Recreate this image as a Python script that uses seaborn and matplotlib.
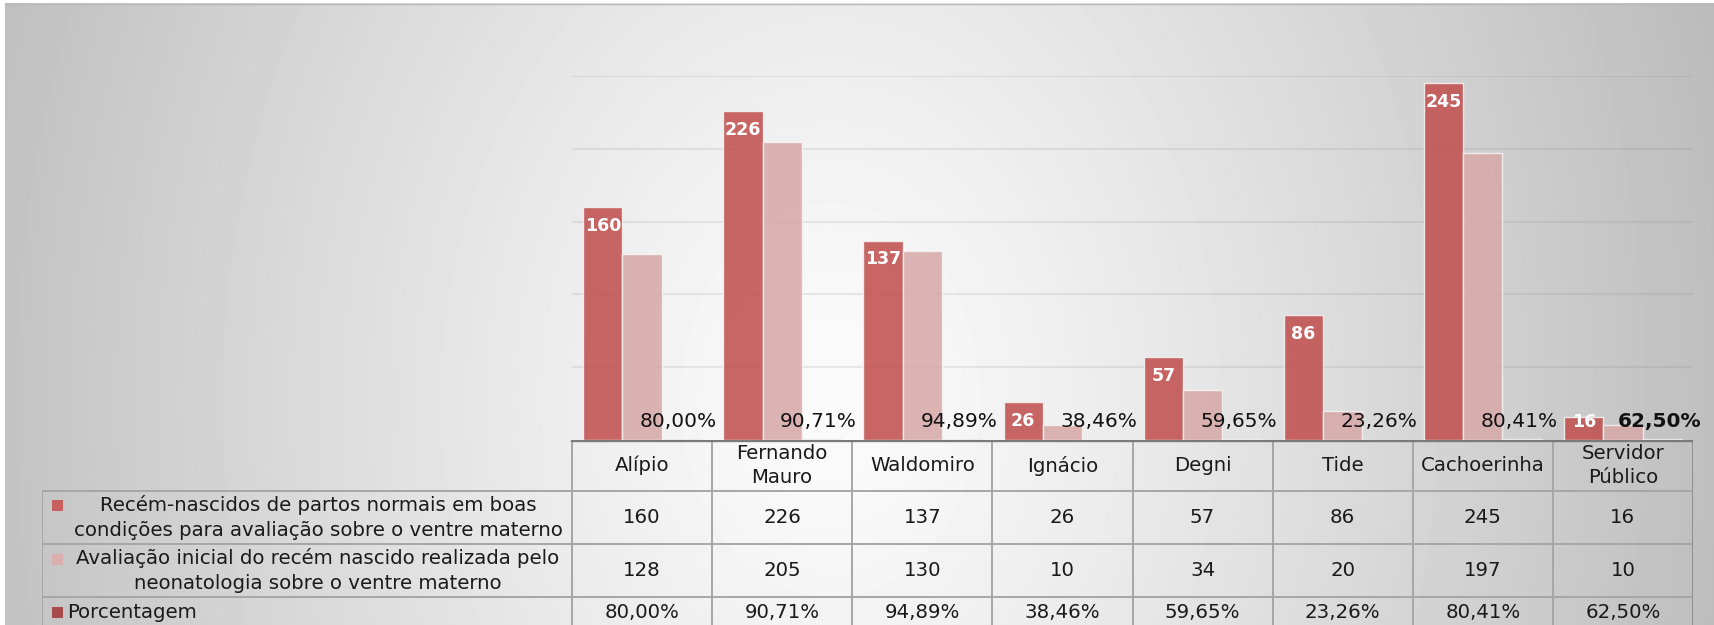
import matplotlib

matplotlib.use("Agg")
import matplotlib.pyplot as plt
import numpy as np
import pandas as pd
import seaborn as sns

# dados
unidades = ["Alípio", "Fernando\nMauro", "Waldomiro", "Ignácio", "Degni", "Tide", "Cachoerinha", "Servidor\nPúblico"]
partos_boas = [160, 226, 137, 26, 57, 86, 245, 16]
avaliacao_neo = [128, 205, 130, 10, 34, 20, 197, 10]
porcentagem = [80.00, 90.71, 94.89, 38.46, 59.65, 23.26, 80.41, 62.50]
series = [
    "Recém-nascidos de partos normais em boas\ncondições para avaliação sobre o ventre materno",
    "Avaliação inicial do recém nascido realizada pelo\nneonatologia sobre o ventre materno",
    "Porcentagem",
]
cores = ["#C0504E", "#D8A9A9", "#A84848"]
cores_chave = ["#C85F5F", "#DCAFAF", "#AA4B4B"]

W, H = 1715, 625
PLOT_L, PLOT_R, BASE, TOP250 = 572, 1693, 440, 76
TAB_L = 42


def fmt_pct(v):
    return f"{v:.2f}".replace(".", ",") + "%"


plt.rcParams["font.family"] = ["DejaVu Sans"]

fig = plt.figure(figsize=(W / 100, H / 100), dpi=100)
fig.patch.set_facecolor("white")

# fundo com gradiente radial
bg = fig.add_axes([0, 0, 1, 1])
xx, yy = np.meshgrid(np.arange(W), np.arange(H))
r = np.sqrt(((xx - 830) / 830) ** 2 + ((yy - 400) / 1090) ** 2)
grad = np.clip(252 - 57 * r ** 1.15, 0, 250) / 255
grad[:3, :] = 1.0
grad[:, :5] = 1.0
bg.imshow(grad, cmap="gray", vmin=0, vmax=1, extent=(0, W, H, 0), aspect="auto")
bg.plot([5, W], [3.5, 3.5], color="#B8B8B8", lw=1)
bg.set_xlim(0, W)
bg.set_ylim(H, 0)
bg.axis("off")

# grafico de barras
ax = fig.add_axes([PLOT_L / W, (H - BASE) / H, (PLOT_R - PLOT_L) / W, (BASE - TOP250) / H])
ax.set_facecolor("none")
df = pd.DataFrame({
    "unidade": unidades * 3,
    "valor": partos_boas + avaliacao_neo + [p / 100 for p in porcentagem],
    "serie": [series[0]] * 8 + [series[1]] * 8 + [series[2]] * 8,
})
sns.barplot(data=df, x="unidade", y="valor", hue="serie", order=unidades, hue_order=series,
            palette=cores, width=0.84, gap=0, saturation=1, alpha=0.87,
            edgecolor="#F4F4F4", linewidth=1, legend=False, ax=ax)
ax.set_xlim(-0.5, 7.5)
ax.set_ylim(0, 250)
ax.set_yticks([50, 100, 150, 200, 250])
ax.yaxis.grid(True, color="#7F7F7F", alpha=0.15, lw=1.5)
ax.set_axisbelow(True)
ax.tick_params(left=False, bottom=False, labelleft=False, labelbottom=False)
ax.set_xlabel("")
ax.set_ylabel("")
for s in ax.spines.values():
    s.set_visible(False)

for bar, v in zip(ax.containers[0], partos_boas):
    xc = bar.get_x() + bar.get_width() / 2
    ax.text(xc, max(v - 13, 12.5), str(v), ha="center", va="center", color="white",
            fontsize=12.5, fontweight="bold")
for i, (bar, p) in enumerate(zip(ax.containers[2], porcentagem)):
    xc = bar.get_x() + bar.get_width() / 2 - 0.02
    ax.text(xc, 13, fmt_pct(p), ha="center", va="center", color="#111111", fontsize=14.5,
            fontweight="bold" if i == len(porcentagem) - 1 else "normal")

# tabela de dados
ppu = (PLOT_R - PLOT_L) / 8
x0 = -0.5 - (PLOT_L - TAB_L) / ppu
tab = fig.add_axes([TAB_L / W, 0, (PLOT_R - TAB_L) / W, (H - BASE) / H])
tab.set_facecolor("none")
tab.set_xlim(x0, 7.5)
tab.set_ylim(H - BASE, 0)
tab.axis("off")

rows = [0, 51, 104, 157]
linha = "#A6A6A6"
for y in rows[1:]:
    tab.plot([x0, 7.5], [y, y], color=linha, lw=1.4)
for k in range(8):
    tab.plot([k - 0.5, k - 0.5], [0, H - BASE], color=linha, lw=1.4)
tab.plot([7.5, 7.5], [0, H - BASE], color="#8A8A8A", lw=2)
tab.plot([x0, x0], [rows[1], H - BASE], color=linha, lw=1.4)
tab.plot([-0.5, 7.5], [0, 0], color="#7A7A7A", lw=2.4)

fs = 14.2
tc = "#1A1A1A"
for i, u in enumerate(unidades):
    tab.text(i, 25.5, u, ha="center", va="center", fontsize=fs, color=tc, linespacing=1.38)
    tab.text(i, 77.5, str(partos_boas[i]), ha="center", va="center", fontsize=fs, color=tc)
    tab.text(i, 130.5, str(avaliacao_neo[i]), ha="center", va="center", fontsize=fs, color=tc)
    tab.text(i, 172, fmt_pct(porcentagem[i]), ha="center", va="center", fontsize=fs, color=tc)


def px(p):
    return x0 + (p - TAB_L) / ppu


key_y = [65, 119, 172]
for s, (cor, ky) in enumerate(zip(cores_chave, key_y)):
    tab.add_patch(plt.Rectangle((px(52), ky - 5.5), 11 / ppu, 11, color=cor, lw=0))
tab.text(px(318), 77.5, series[0], ha="center", va="center", fontsize=fs, color=tc, linespacing=1.38)
tab.text(px(318), 130.5, series[1], ha="center", va="center", fontsize=fs, color=tc, linespacing=1.38)
tab.text(px(67), 172, series[2], ha="left", va="center", fontsize=fs, color=tc)

fig.savefig("out.png", dpi=100)
